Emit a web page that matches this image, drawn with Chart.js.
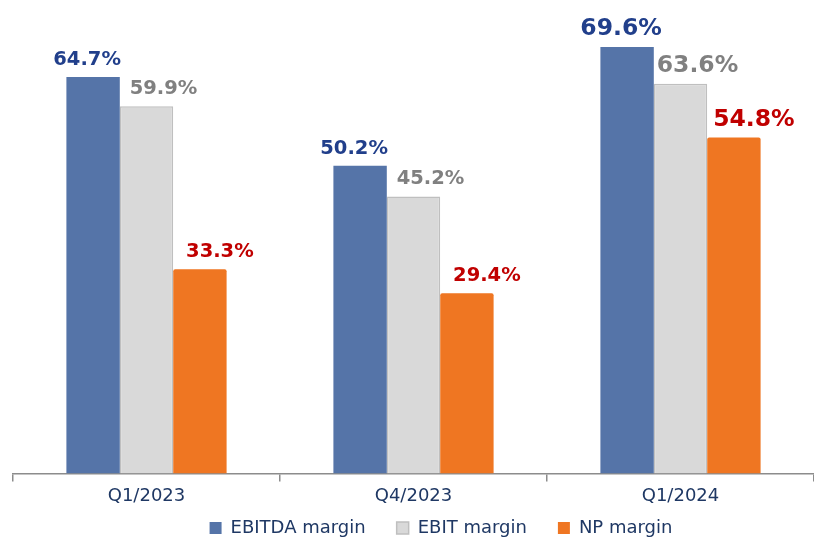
<!DOCTYPE html>
<html>
<head>
<meta charset="utf-8">
<script src="https://cdn.jsdelivr.net/npm/chart.js@4.4.1/dist/chart.umd.min.js"></script>
<style>
  html, body { margin: 0; padding: 0; background: #fff; }
  #wrap { width: 814px; height: 538px; }
</style>
</head>
<body>
<div id="wrap"><canvas id="marginChart" width="814" height="538"></canvas></div>
<script>
const quarters = ['Q1/2023', 'Q4/2023', 'Q1/2024'];
const ebitdaMargin = [64.7, 50.2, 69.6];
const ebitMargin = [59.9, 45.2, 63.6];
const npMargin = [33.3, 29.4, 54.8];

// label look, per quarter and per series
const labelSize = [19.5, 19.5, 23.5];
const labelColor = ['#213f8b', '#808080', '#c00000'];
const labelShift = [-6, 17, 20];

const valueLabels = {
    id: 'valueLabels',
    afterDatasetsDraw(chart) {
        const ctx = chart.ctx;
        ctx.save();
        ctx.textAlign = 'center';
        ctx.textBaseline = 'alphabetic';
        chart.data.datasets.forEach((ds, i) => {
            chart.getDatasetMeta(i).data.forEach((bar, j) => {
                ctx.font = 'bold ' + labelSize[j] + 'px "DejaVu Sans"';
                ctx.fillStyle = labelColor[i];
                ctx.fillText(ds.data[j].toFixed(1) + '%', bar.x + labelShift[i], bar.y - 12);
            });
        });
        ctx.restore();
    }
};

// move the legend up (row centre at y=528) and a bit right, like the original slide
const legendNudge = {
    id: 'legendNudge',
    afterLayout(chart) {
        const lg = chart.legend;
        const dy = lg.top + lg.options.labels.padding + 9 - 528;
        lg.top -= dy;
        lg.bottom -= dy;
        lg.left += 26;
        lg.right += 26;
    }
};

const ctx = document.getElementById('marginChart').getContext('2d');
new Chart(ctx, {
    type: 'bar',
    data: {
        labels: quarters,
        datasets: [{
            label: 'EBITDA margin',
            data: ebitdaMargin,
            backgroundColor: '#5574a8',
            borderWidth: 0
        }, {
            label: 'EBIT margin',
            data: ebitMargin,
            backgroundColor: '#d9d9d9',
            borderColor: '#bfbfbf',
            borderWidth: 1.5
        }, {
            label: 'NP margin',
            data: npMargin,
            backgroundColor: '#ef7622',
            borderWidth: 0,
            borderRadius: 2
        }]
    },
    options: {
        responsive: false,
        animation: false,
        categoryPercentage: 0.6,
        barPercentage: 1.0,
        layout: { padding: { left: 13, right: -3, top: 0, bottom: -32 } },
        plugins: {
            tooltip: { enabled: false },
            legend: {
                position: 'bottom',
                labels: {
                    boxWidth: 12,
                    boxHeight: 12,
                    padding: 31,
                    color: '#1f3864',
                    font: { family: '"DejaVu Sans"', size: 18 }
                }
            }
        },
        scales: {
            x: {
                border: { display: true, color: '#8c8c8c', width: 1.5 },
                grid: {
                    offset: true,
                    drawOnChartArea: false,
                    drawTicks: true,
                    tickLength: 8,
                    color: '#8c8c8c',
                    lineWidth: 1.5
                },
                ticks: {
                    color: '#1f3864',
                    padding: 4,
                    font: { family: '"DejaVu Sans"', size: 18 }
                }
            },
            y: {
                display: false,
                min: 0,
                max: 77.25
            }
        }
    },
    plugins: [valueLabels, legendNudge]
});
</script>
</body>
</html>
